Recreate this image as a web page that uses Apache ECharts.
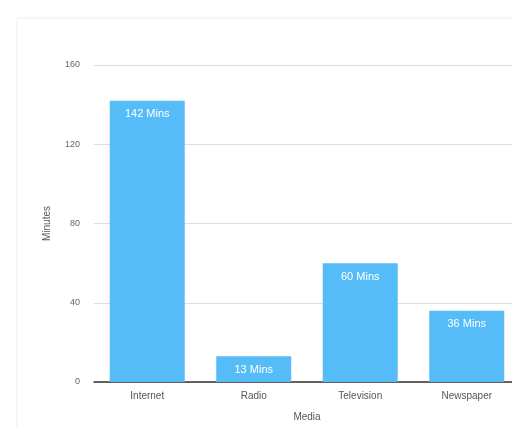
<!DOCTYPE html>
<html><head><meta charset="utf-8">
<script src="https://cdn.jsdelivr.net/npm/echarts@6/dist/echarts.min.js"></script>
<style>html,body{margin:0;padding:0;background:#fff;overflow:hidden;width:512px;height:427px}#c{width:520px;height:427px}</style>
</head><body><div id="c"></div>
<script>
const categories = ['Internet', 'Radio', 'Television', 'Newspaper'];
const minutes = [142, 13, 60, 36];
const yTicks = [0, 40, 80, 120, 160];

const chart = echarts.init(document.getElementById('c'));
chart.setOption({
  animation: false,
  backgroundColor: '#fff',
  graphic: [
    {type: 'line', shape: {x1: 17, y1: 18, x2: 520, y2: 18}, style: {stroke: '#eeeeee', lineWidth: 1}},
    {type: 'line', shape: {x1: 17, y1: 18, x2: 17, y2: 427}, style: {stroke: '#eeeeee', lineWidth: 1}}
  ],
  grid: {left: 94, right: 0, top: 65, bottom: 44, containLabel: false},
  xAxis: {
    type: 'category', data: categories,
    name: 'Media', nameLocation: 'middle', nameGap: 30,
    nameTextStyle: {color: '#555', fontSize: 10, fontFamily: 'Liberation Sans, Arial, sans-serif'},
    axisLine: {lineStyle: {color: '#333', width: 1.5}},
    axisTick: {show: false},
    axisLabel: {color: '#555', fontSize: 10, margin: 9, fontFamily: 'Liberation Sans, Arial, sans-serif'}
  },
  yAxis: {
    type: 'value', min: yTicks[0], max: yTicks[yTicks.length-1], interval: 40,
    name: 'Minutes', nameLocation: 'middle', nameGap: 42, nameRotate: 90,
    nameTextStyle: {color: '#555', fontSize: 10, fontFamily: 'Liberation Sans, Arial, sans-serif'},
    axisLine: {show: false}, axisTick: {show: false},
    splitLine: {lineStyle: {color: '#dddddd'}},
    axisLabel: {color: '#666', fontSize: 9, margin: 14, fontFamily: 'Liberation Sans, Arial, sans-serif'}
  },
  series: [{
    type: 'bar', data: minutes, barWidth: 75,
    itemStyle: {color: '#56bcf8'},
    label: {show: true, position: 'insideTop', distance: 8, color: '#fff', fontSize: 11,
      fontFamily: 'Liberation Sans, Arial, sans-serif',
      formatter: p => p.value + ' Mins'}
  }]
});
</script></body></html>
